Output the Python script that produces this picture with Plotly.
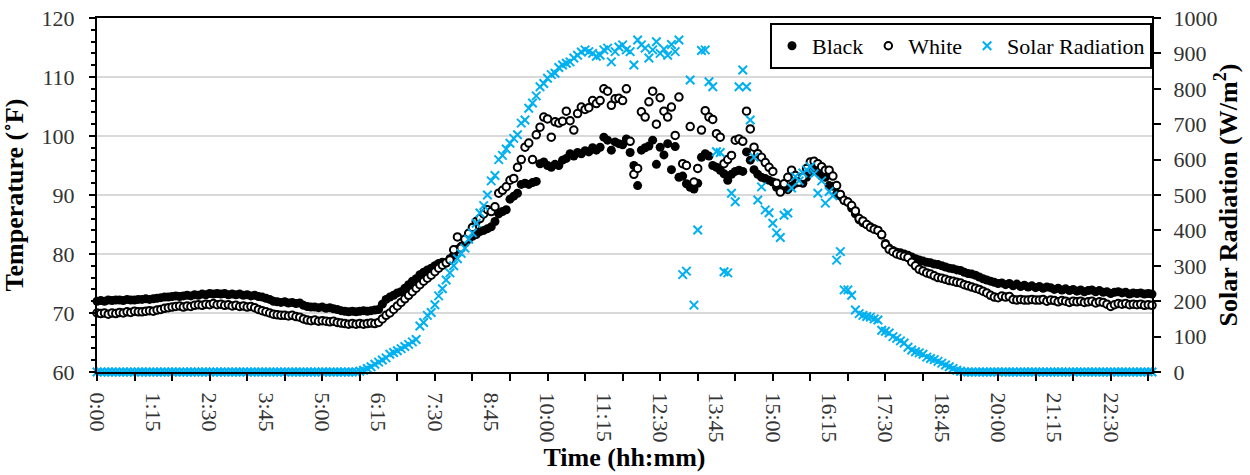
import plotly.graph_objects as go

# ---- data: 5-minute readings from 0:00 to 23:25 ----
black = [
    72.0, 72.1, 72.0, 72.2, 72.1, 72.2, 72.2, 72.1, 72.3, 72.2, 72.2, 72.3,  # 0h
    72.3, 72.4, 72.3, 72.4, 72.5, 72.6, 72.7, 72.7, 72.8, 72.9, 72.8, 72.9,  # 1h
    73.0, 72.9, 73.1, 73.0, 73.2, 73.1, 73.3, 73.2, 73.3, 73.2, 73.3, 73.1,  # 2h
    73.2, 73.1, 73.2, 73.0, 73.1, 72.9, 73.0, 72.8, 72.7, 72.5, 72.3, 72.0,  # 3h
    71.9, 71.8, 71.9, 71.7, 71.8, 71.6, 71.7, 71.3, 71.1, 71.0, 71.0, 70.9,  # 4h
    71.0, 70.8, 70.9, 70.7, 70.6, 70.4, 70.3, 70.2, 70.3, 70.2, 70.3, 70.4,  # 5h
    70.3, 70.4, 70.5, 70.6, 71.5, 72.3, 72.7, 73.0, 73.4, 73.6, 74.2, 74.8,  # 6h
    75.4, 75.8, 76.5, 76.9, 77.3, 77.6, 78.0, 78.4, 78.6, 78.5, 79.2, 79.8,  # 7h
    80.8, 81.3, 81.8, 82.5, 83.0, 83.3, 83.8, 84.0, 84.3, 84.6, 85.5, 86.8,  # 8h
    87.2, 87.5, 89.3, 89.8, 90.3, 91.8, 92.0, 91.8, 92.1, 92.3, 95.3, 95.6,  # 9h
    95.0, 94.7, 95.2, 95.0, 95.9, 96.2, 97.0, 96.6, 97.2, 97.0, 97.5, 97.3,  # 10h
    98.0, 97.6, 98.1, 99.8, 99.3, 97.6, 99.0, 98.7, 98.5, 99.5, 97.2, 95.0,  # 11h
    91.6, 97.6, 98.0, 98.3, 99.3, 95.2, 98.1, 96.8, 98.7, 94.3, 98.2, 93.0,  # 12h
    93.2, 91.9, 91.3, 91.0, 92.0, 96.4, 97.0, 96.6, 95.0, 94.7, 94.2, 93.6,  # 13h
    92.5, 93.5, 94.0, 94.2, 94.0, 97.3, 95.9, 94.3, 93.5, 93.0, 92.8, 92.5,  # 14h
    92.2, 91.3, 90.8, 91.0, 90.9, 91.5, 92.0, 92.2, 92.0, 93.0, 93.8, 94.2,  # 15h
    94.0, 93.2, 93.0, 91.6, 91.5, 90.2, 89.8, 89.1, 88.8, 87.8, 86.8, 85.8,  # 16h
    85.3, 85.0, 84.6, 84.3, 84.0, 83.2, 81.8, 81.0, 80.6, 80.3, 80.2, 80.0,  # 17h
    79.8, 79.5, 79.2, 79.0, 78.8, 78.6, 78.5, 78.3, 78.2, 78.0, 77.8, 77.6,  # 18h
    77.5, 77.3, 77.2, 76.9, 76.7, 76.6, 76.4, 76.1, 75.8, 75.6, 75.4, 75.2,  # 19h
    75.0, 75.1, 74.8, 75.0, 74.6, 74.9, 74.5, 74.7, 74.4, 74.6, 74.3, 74.5,  # 20h
    74.2, 74.4, 74.3, 74.0, 74.2, 73.9, 74.1, 73.8, 74.0, 73.7, 73.9, 73.6,  # 21h
    73.8, 73.9, 73.6, 73.8, 73.5, 73.6, 73.3, 73.5, 73.6, 73.4, 73.5, 73.2,  # 22h
    73.4, 73.3, 73.4, 73.2, 73.3, 73.2,                                      # 23h
]

white = [
    70.0, 69.9, 70.0, 69.8, 70.0, 69.9, 70.1, 70.0, 70.2, 70.1, 70.3, 70.2,
    70.2, 70.3, 70.4, 70.3, 70.5, 70.6, 70.8, 70.9, 71.0, 71.1, 71.2, 71.0,
    71.2, 71.1, 71.3, 71.4, 71.3, 71.5, 71.4, 71.6, 71.4, 71.5, 71.3, 71.4,
    71.2, 71.3, 71.1, 71.2, 71.0, 71.1, 70.9, 70.6, 70.4, 70.2, 70.0, 69.8,
    69.7, 69.6, 69.6, 69.5, 69.6, 69.4, 69.3, 69.0, 68.8, 68.7, 68.8, 68.6,
    68.7, 68.6, 68.5, 68.6, 68.4, 68.3, 68.2, 68.1, 68.2, 68.1, 68.2, 68.1,
    68.2, 68.3, 68.2, 68.4, 69.0, 69.6, 70.0, 70.6, 71.2, 71.8, 72.4, 73.0,
    73.6, 74.2, 74.8, 75.4, 75.9, 76.4, 77.0, 77.6, 78.1, 78.5, 79.0, 80.7,
    82.9, 81.0, 82.5, 83.5, 84.5, 85.5, 86.0, 86.8, 87.5, 87.2, 88.0, 90.3,
    90.8, 91.4, 92.5, 92.8, 94.7, 96.0, 98.1, 98.8, 96.0, 100.2, 101.5, 103.2,
    102.9, 99.8, 102.4, 102.2, 102.5, 104.2, 102.6, 101.0, 103.8, 104.9, 104.5, 104.8,
    106.0, 105.5, 106.0, 108.0, 107.6, 105.2, 106.3, 106.4, 106.0, 108.0, 99.1, 93.5,
    94.5, 104.1, 103.2, 105.8, 107.6, 102.0, 106.5, 104.2, 103.2, 104.9, 100.1, 106.6,
    95.3, 95.0, 101.6, 92.2, 94.5, 101.0, 104.3, 103.2, 102.8, 100.4, 99.8, 95.3,
    96.0, 96.7, 99.3, 99.5, 99.1, 104.2, 101.2, 98.1, 97.0, 96.4, 95.5, 94.7,
    94.0, 92.0, 90.5, 91.9, 93.0, 94.2, 93.3, 92.2, 93.0, 94.5, 95.6, 95.7,
    95.3, 94.8, 94.2, 94.2, 93.2, 91.6, 90.1, 89.1, 88.8, 88.2, 87.3, 86.0,
    85.6, 85.0, 84.5, 84.2, 84.0, 83.3, 81.6, 80.8, 80.4, 80.0, 79.8, 79.6,
    79.4, 78.6, 78.0, 77.4, 77.1, 76.8, 76.6, 76.3, 76.0, 75.9, 75.7, 75.5,
    75.4, 75.2, 75.1, 74.8, 74.6, 74.4, 74.2, 74.0, 73.7, 73.4, 73.0, 72.7,
    72.6, 72.9, 72.7, 72.8, 72.3, 72.2, 72.3, 72.2, 72.2, 72.3, 72.2, 72.2,
    72.3, 72.0, 72.2, 72.1, 71.9, 72.1, 72.0, 71.8, 72.0, 71.9, 72.0, 71.8,
    71.9, 72.0, 71.7, 71.9, 71.8, 71.5, 71.1, 71.4, 71.6, 71.5, 71.6, 71.4,
    71.5, 71.4, 71.5, 71.3, 71.4, 71.3,
]

solar = [
    0, 0, 0, 0, 0, 0, 0, 0, 0, 0, 0, 0,
    0, 0, 0, 0, 0, 0, 0, 0, 0, 0, 0, 0,
    0, 0, 0, 0, 0, 0, 0, 0, 0, 0, 0, 0,
    0, 0, 0, 0, 0, 0, 0, 0, 0, 0, 0, 0,
    0, 0, 0, 0, 0, 0, 0, 0, 0, 0, 0, 0,
    0, 0, 0, 0, 0, 0, 0, 0, 0, 0, 2, 5,
    10, 15, 22, 28, 34, 40, 50, 55, 60, 66, 72, 78,
    85, 92, 130, 140, 160, 168, 190, 215, 235, 260, 280, 300,
    320, 335, 350, 375, 393, 420, 449, 470, 500, 540, 555, 600,
    612, 630, 646, 660, 670, 703, 712, 745, 760, 780, 806, 815,
    830, 840, 844, 860, 867, 872, 876, 887, 895, 904, 910, 905,
    900, 892, 895, 910, 915, 876, 905, 918, 924, 910, 905, 867,
    938, 924, 915, 887, 910, 933, 900, 912, 895, 925, 905, 938,
    275, 285, 825, 189, 401, 908, 910, 820, 806, 622, 620, 283,
    280, 505, 481, 806, 853, 806, 712, 607, 486, 523, 458, 450,
    420, 393, 380, 443, 449, 520, 552, 540, 562, 571, 580, 560,
    505, 540, 477, 510, 498, 316, 340, 232, 232, 217, 175, 165,
    160, 157, 155, 150, 147, 118, 115, 110, 100, 95, 88, 82,
    70, 62, 57, 54, 50, 42, 38, 35, 30, 25, 20, 15,
    10, 5, 2, 0, 0, 0, 0, 0, 0, 0, 0, 0,
    0, 0, 0, 0, 0, 0, 0, 0, 0, 0, 0, 0,
    0, 0, 0, 0, 0, 0, 0, 0, 0, 0, 0, 0,
    0, 0, 0, 0, 0, 0, 0, 0, 0, 0, 0, 0,
    0, 0, 0, 0, 0, 0,
]

minutes = [5 * i for i in range(len(black))]
tick_minutes = [0, 75, 150, 225, 300, 375, 450, 525, 600, 675, 750, 825,
                900, 975, 1050, 1125, 1200, 1275, 1350]
tick_labels = ["0:00", "1:15", "2:30", "3:45", "5:00", "6:15", "7:30", "8:45",
               "10:00", "11:15", "12:30", "13:45", "15:00", "16:15", "17:30",
               "18:45", "20:00", "21:15", "22:30"]
X_MAX = 1405

FONT = "Liberation Serif, Times New Roman, serif"
BLUE = "#00B0F0"

fig = go.Figure()
fig.add_trace(go.Scatter(
    x=minutes, y=black, mode="markers", name="Black",
    marker=dict(symbol="circle", size=9, color="black"), cliponaxis=False))
fig.add_trace(go.Scatter(
    x=minutes, y=white, mode="markers", name="White",
    marker=dict(symbol="circle", size=7.5, color="white",
                line=dict(color="black", width=2)), cliponaxis=False))
fig.add_trace(go.Scatter(
    x=minutes, y=solar, mode="markers", name="Solar Radiation", yaxis="y2",
    marker=dict(symbol="x-thin", size=8.5, color=BLUE,
                line=dict(color=BLUE, width=2)), cliponaxis=False))
# carrier for the tick-mark axis
fig.add_trace(go.Scatter(x=[0], y=[None], xaxis="x2", yaxis="y",
                         showlegend=False, hoverinfo="skip", mode="markers"))

fig.update_layout(
    width=1250, height=475,
    margin=dict(l=97, r=98, t=18, b=103, autoexpand=False),
    paper_bgcolor="white", plot_bgcolor="white",
    font=dict(family=FONT, size=22, color="#333333"),
    showlegend=True,
    xaxis=dict(
        range=[0, X_MAX], tickmode="array", tickvals=tick_minutes,
        ticktext=tick_labels, tickangle=90, ticks="",
        ticklabelstandoff=14,
        showline=True, linecolor="black", linewidth=2, mirror=True,
        showgrid=False, zeroline=False,
        title=dict(text="<b>Time (hh:mm)</b>",
                   font=dict(size=26, color="black"), standoff=6)),
    xaxis2=dict(
        overlaying="x", anchor="y", side="bottom", range=[0, X_MAX],
        tickmode="linear", tick0=0, dtick=50, ticks="outside", ticklen=8,
        tickwidth=2, tickcolor="black", showticklabels=False,
        showline=False, showgrid=False, zeroline=False),
    yaxis=dict(
        range=[60, 120], tickmode="linear", tick0=60, dtick=10,
        ticks="outside", ticklen=6, tickwidth=2, tickcolor="black",
        ticklabelstandoff=10,
        showline=True, linecolor="black", linewidth=2,
        showgrid=True, gridcolor="#d9d9d9", gridwidth=1.5, zeroline=False,
        minor=dict(dtick=2, ticks="outside", ticklen=4, tickwidth=1.5,
                   tickcolor="black", showgrid=False),
        title=dict(text="<b>Temperature (˚F)</b>",
                   font=dict(size=26, color="black"), standoff=12)),
    yaxis2=dict(
        overlaying="y", side="right", anchor="x", range=[0, 1000],
        tickmode="linear", tick0=0, dtick=100,
        ticks="outside", ticklen=7, tickwidth=2, tickcolor="black",
        ticklabelstandoff=8,
        showline=True, linecolor="black", linewidth=2,
        showgrid=False, zeroline=False,
        title=dict(text="<b>Solar Radiation (W/m<sup>2</sup>)</b>",
                   font=dict(size=26, color="black"), standoff=2)),
    legend=dict(
        orientation="h", x=1, xanchor="right", y=0.986, yanchor="top",
        bordercolor="black", borderwidth=2, bgcolor="white",
        font=dict(size=22, color="black")),
)

fig.write_html("out.html",
               config={"displayModeBar": False},
               post_script="document.body.style.margin='0';"
                           "document.body.style.padding='0';")
